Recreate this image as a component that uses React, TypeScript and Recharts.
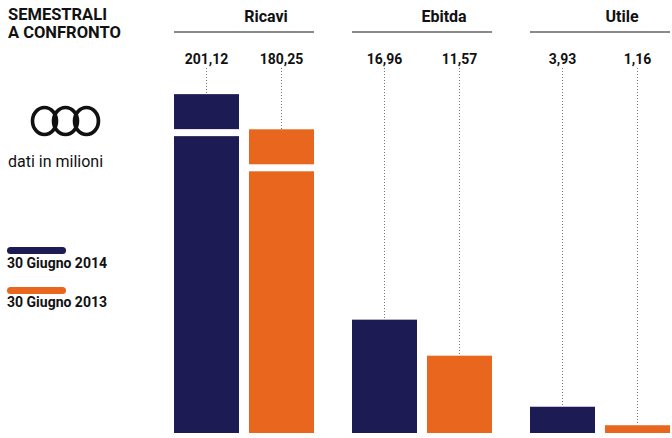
import { Bar, BarChart, LabelList, XAxis, YAxis } from "recharts";

const categories = ["Ricavi", "Ebitda", "Utile"];
const values2014 = [201.12, 16.96, 3.93];
const values2013 = [180.25, 11.57, 1.16];
const seriesNames = ["30 Giugno 2014", "30 Giugno 2013"];
// i ricavi hanno una scala propria (barre spezzate)
const scaleMax = [238, 60, 60];
const brokenCategories = ["Ricavi"];

const NAVY = "#1d1b54";
const ORANGE = "#e8661e";
const FONT = "Roboto, 'Noto Sans', sans-serif";

const fmt = (v: number) => v.toFixed(2).replace(".", ",");

function BrokenBar(props: any) {
  const { x, y, width, height, fill, payload } = props;
  const broken = brokenCategories.includes(payload.name);
  return (
    <g>
      <rect x={x} y={y} width={width} height={height} fill={fill} />
      {broken && (
        <rect x={x - 1} y={y + 35} width={width + 2} height={7} fill="#fff" />
      )}
    </g>
  );
}

function ValueLabel(props: any) {
  const { x, y, width, value } = props;
  const cx = x + width / 2;
  return (
    <g>
      <line x1={cx} x2={cx} y1={68} y2={y} stroke="#777" strokeDasharray="1 2" />
      <text
        x={cx}
        y={64}
        textAnchor="middle"
        fontFamily={FONT}
        fontWeight={700}
        fontSize={14}
        fill="#111"
      >
        {fmt(value)}
      </text>
    </g>
  );
}

function HeaderTick(props: any) {
  const { x, y, payload } = props;
  return (
    <text
      x={x + 22}
      y={y}
      textAnchor="middle"
      fontFamily={FONT}
      fontWeight={700}
      fontSize={16}
      fill="#111"
    >
      {payload.value}
    </text>
  );
}

function GroupChart({ index }: { index: number }) {
  const data = [
    {
      name: categories[index],
      a2014: values2014[index],
      a2013: values2013[index],
    },
  ];
  return (
    <div style={{ position: "absolute", left: 174 + index * 178, top: 0 }}>
      <BarChart
        width={140}
        height={433}
        data={data}
        margin={{ top: 0, right: 0, bottom: 0, left: 0 }}
        barCategoryGap={0}
        barGap={10}
      >
        <XAxis
          dataKey="name"
          orientation="top"
          height={32}
          axisLine={{ stroke: "#8a8a8a", strokeWidth: 2 }}
          tickLine={false}
          tickSize={0}
          tickMargin={10}
          tick={<HeaderTick />}
        />
        <YAxis hide domain={[0, scaleMax[index]]} allowDataOverflow />
        <Bar dataKey="a2014" name={seriesNames[0]} fill={NAVY} shape={<BrokenBar />} isAnimationActive={false}>
          <LabelList dataKey="a2014" content={<ValueLabel />} />
        </Bar>
        <Bar dataKey="a2013" name={seriesNames[1]} fill={ORANGE} shape={<BrokenBar />} isAnimationActive={false}>
          <LabelList dataKey="a2013" content={<ValueLabel />} />
        </Bar>
      </BarChart>
    </div>
  );
}

export default function App() {
  const text = { position: "absolute" as const, fontFamily: FONT, color: "#111", margin: 0 };
  return (
    <div
      style={{
        position: "absolute",
        left: 0,
        top: 0,
        width: 672,
        height: 438,
        background: "#fff",
        overflow: "hidden",
      }}
    >
      <div style={{ ...text, left: 8, top: 6, fontSize: 16.5, fontWeight: 700, lineHeight: "17px" }}>
        SEMESTRALI
      </div>
      <div style={{ ...text, left: 8, top: 24, fontSize: 16.5, fontWeight: 700, lineHeight: "17px" }}>
        A CONFRONTO
      </div>
      <svg style={{ position: "absolute", left: 28, top: 103 }} width={76} height={36}>
        <ellipse cx={58} cy={18} rx={11} ry={13} fill="none" stroke="#bbb" strokeWidth={1.2} />
        {[0, 1, 2].map((i) => (
          <ellipse key={i} cx={16.5 + i * 21} cy={18} rx={12} ry={13.5} fill="none" stroke="#111" strokeWidth={3.6} />
        ))}
      </svg>
      <div style={{ ...text, left: 8, top: 152, fontSize: 16 }}>dati in milioni</div>
      {seriesNames.map((s, i) => (
        <div key={s}>
          <div
            style={{
              position: "absolute",
              left: 7,
              top: 247 + i * 40,
              width: 59,
              height: 7,
              borderRadius: 4,
              background: i === 0 ? NAVY : ORANGE,
            }}
          />
          <div style={{ ...text, left: 7, top: 255 + i * 39, fontSize: 14, fontWeight: 700 }}>{s}</div>
        </div>
      ))}
      {categories.map((c, i) => (
        <GroupChart key={c} index={i} />
      ))}
    </div>
  );
}
